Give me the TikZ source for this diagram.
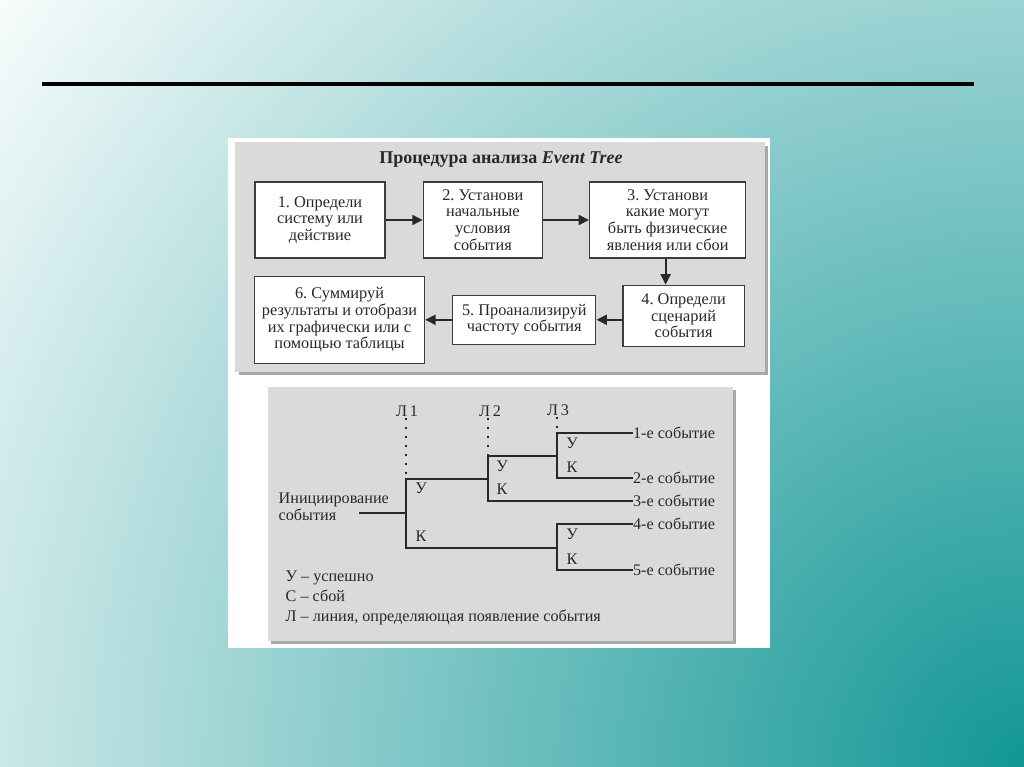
\documentclass[tikz,border=0pt]{standalone}
\usepackage{fontspec}
\setmainfont{Liberation Serif}
\usetikzlibrary{arrows.meta, positioning, calc}
\definecolor{slideteal}{RGB}{18,150,150}
\definecolor{panelgray}{RGB}{217,218,218}
\definecolor{panelshade}{RGB}{168,170,170}
\definecolor{boxline}{RGB}{60,60,60}
\definecolor{inkgray}{RGB}{40,40,40}

\begin{document}
\frenchspacing
\begin{tikzpicture}[x=0.025cm, y=-0.025cm, node distance=0.65cm,
  stepbox/.style={rectangle, draw=boxline, line width=0.9pt, fill=white, align=center, text=inkgray, font=\fontsize{11.6}{11.9}\selectfont, inner sep=2pt},
  arr/.style={-{Triangle[length=2.6mm, width=2.5mm]}, line width=1.4pt, draw=inkgray},
  branch/.style={line width=1.4pt, draw=inkgray, line join=miter},
  dots/.style={dash pattern=on 1.2pt off 5.2pt, line width=1.2pt, draw=inkgray},
  lbl/.style={text=inkgray, font=\fontsize{11.5}{12}\selectfont, inner sep=1pt},
  evt/.style={lbl, anchor=west, inner sep=0pt, xshift=0.17cm}
]
\useasboundingbox (0,0) rectangle (1024,767);
\begin{scope}
  \clip (0,0) rectangle (1024,767);
  \shade[inner color=slideteal, outer color=white] (1024,767) circle (33cm);
\end{scope}
\draw[line width=2.2pt, black] (42,84) -- (974,84);
% Panels
\fill[white] (228,138) rectangle (770,648);
\fill[panelshade] (239,146) rectangle (768,375);
\fill[panelgray] (235,142) rectangle (765,372);
\fill[panelshade] (271,390) rectangle (736,644);
\fill[panelgray] (268,387) rectangle (733,641);

\node[font=\bfseries\fontsize{12.8}{14}\selectfont, text=inkgray] (title) at (501,160) {Процедура анализа \textit{Event Tree}};
\node[stepbox, minimum width=3.25cm, minimum height=1.9cm] (define) at (320,220) {1. Определи\\систему или\\действие};
\node[stepbox, minimum width=2.975cm, minimum height=1.9cm, right=0.925cm of define] (initial) {2. Установи\\начальные\\условия\\события};
\node[stepbox, minimum width=3.9cm, minimum height=1.9cm, right=1.15cm of initial] (phenom) {3. Установи\\какие могут\\быть физические\\явления или сбои};
\node[stepbox, minimum width=3.025cm, minimum height=1.525cm, below=0.65cm of phenom, xshift=0.4cm] (scenario) {4. Определи\\сценарий\\события};
\node[stepbox, minimum width=3.575cm, minimum height=1.225cm, left=0.65cm of scenario, yshift=-0.1cm] (freq) {5. Проанализируй\\частоту события};
\node[stepbox, minimum width=4.25cm, minimum height=2.175cm, left=0.675cm of freq] (summary) {6. Суммируй\\результаты и отобрази\\их графически или с\\помощью таблицы};
\draw[arr] (define) -- (initial);
\draw[arr] (initial) -- (phenom);
\draw[arr] ([xshift=-0.05cm]phenom.south) -- ([xshift=-0.05cm]phenom.south |- scenario.north);
\draw[arr] (scenario.west |- freq.east) -- (freq.east);
\draw[arr] (freq) -- (summary);

% Event tree
\node[lbl, align=left, anchor=west] (init) at (277,507) {Инициирование\\события};
\node[lbl] (line1) at (407,411) {Л\,1};
\node[lbl] (line2) at (490,411) {Л\,2};
\node[lbl] (line3) at (558,410) {Л\,3};
\coordinate (start) at (359,513);
\coordinate (l1) at (406,513);
\coordinate (l1up) at (406,479);
\coordinate (l1dn) at (406,548);
\coordinate (l2) at (488,479);
\coordinate (l2up) at (488,456);
\coordinate (l2dn) at (488,501);
\coordinate (l3a) at (557,456);
\coordinate (l3aup) at (557,433);
\coordinate (l3adn) at (557,478);
\coordinate (l3b) at (557,548);
\coordinate (l3bup) at (557,524);
\coordinate (l3bdn) at (557,570);
\node[evt] (ev1) at (626,433) {1-е событие};
\node[evt] (ev2) at (626,478) {2-е событие};
\node[evt] (ev3) at (626,501) {3-е событие};
\node[evt] (ev4) at (626,524) {4-е событие};
\node[evt] (ev5) at (626,570) {5-е событие};
\draw[dots] (line1.south -| l1up) -- (l1up);
\draw[dots] (line2.south -| l2up) -- (l2up);
\draw[dots] (line3.south -| l3aup) -- (l3aup);
\draw[branch] (start) -- (l1);
\draw[branch] (l2) -- (l1up) -- (l1dn) -- (l3b);
\draw[branch] (l3a) -- (l2up) -- (l2dn) -- (ev3.west);
\draw[branch] (ev1.west) -- (l3aup) -- (l3adn) -- (ev2.west);
\draw[branch] (ev4.west) -- (l3bup) -- (l3bdn) -- (ev5.west);
\node[lbl] (s1) at (421,488) {У};
\node[lbl] (f1) at (421,536) {К};
\node[lbl] (s2) at (502,466) {У};
\node[lbl] (f2) at (502,489) {К};
\node[lbl] (s3) at (572,443) {У};
\node[lbl] (f3) at (572,467) {К};
\node[lbl] (s4) at (572,534) {У};
\node[lbl] (f4) at (572,559) {К};
\node[lbl, align=left, anchor=west, font=\fontsize{11.5}{14.2}\selectfont] (legend) at (284,598) {У – успешно\\С – сбой\\Л – линия, определяющая появление события};
\end{tikzpicture}
\end{document}
